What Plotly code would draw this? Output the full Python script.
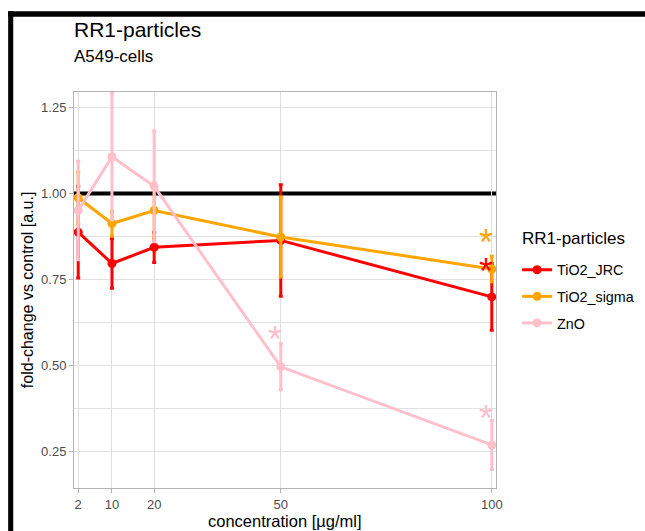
import plotly.graph_objects as go

# concentrations [µg/ml]
conc = [2, 10, 20, 50, 100]

series_names = ["TiO2_JRC", "TiO2_sigma", "ZnO"]
series_colors = ["#ff0000", "#ffa500", "#ffc0cb"]

# fold-change means and error half-widths
jrc_mean = [0.888, 0.797, 0.844, 0.864, 0.700]
jrc_err = [0.133, 0.072, 0.044, 0.162, 0.097]
sigma_mean = [0.988, 0.913, 0.951, 0.874, 0.781]
sigma_err = [0.075, 0.036, 0.080, 0.116, 0.037]
zno_mean = [0.951, 1.107, 1.021, 0.497, 0.270]
zno_err = [0.143, 0.184, 0.161, 0.067, 0.071]

# significance stars
sig_series = ["TiO2_JRC", "TiO2_sigma", "ZnO", "ZnO"]
sig_conc = [100, 100, 50, 100]
sig_level = [0.792, 0.875, 0.594, 0.363]

x_ticks = [2, 10, 20, 50, 100]
y_ticks = [0.25, 0.50, 0.75, 1.00, 1.25]
# horizontal grid lines (the one at 1.00 is covered by the control line)
y_grid = [0.25, 0.375, 0.50, 0.625, 0.75, 0.875, 1.125, 1.25]

means = [jrc_mean, sigma_mean, zno_mean]
errs = [jrc_err, sigma_err, zno_err]

FONT = "Liberation Sans, Arial, sans-serif"

fig = go.Figure()

for name, col, m, e in zip(series_names, series_colors, means, errs):
    fig.add_trace(go.Scatter(
        x=conc, y=m, name=name, mode="lines+markers",
        line=dict(color=col, width=3),
        marker=dict(color=col, size=9),
        error_y=dict(type="data", array=e, visible=True,
                     color=col, thickness=3, width=2),
        legendgroup=name,
    ))

color_of = dict(zip(series_names, series_colors))
annotations = []
for s, cx, lv in zip(sig_series, sig_conc, sig_level):
    annotations.append(dict(
        x=cx, y=lv, xref="x", yref="y", text="*", showarrow=False,
        font=dict(family=FONT, size=36, color=color_of[s]),
        xanchor="center", yanchor="middle", xshift=-6, yshift=-6,
    ))

# titles
annotations += [
    dict(x=0, y=1.1566, xref="paper", yref="paper", text="RR1-particles",
         showarrow=False, xanchor="left", yanchor="middle", xshift=-2,
         font=dict(family=FONT, size=21, color="black")),
    dict(x=0, y=1.0884, xref="paper", yref="paper", text="A549-cells",
         showarrow=False, xanchor="left", yanchor="middle", xshift=-2,
         font=dict(family=FONT, size=17, color="black")),
    dict(x=-0.111, y=0.5, xref="paper", yref="paper",
         text="fold-change vs control [a.u.]", textangle=-90,
         showarrow=False, xanchor="center", yanchor="middle",
         font=dict(family=FONT, size=16, color="black")),
    dict(x=0.5, y=-0.083, xref="paper", yref="paper",
         text="concentration [µg/ml]",
         showarrow=False, xanchor="center", yanchor="middle",
         font=dict(family=FONT, size=16.5, color="black")),
    # legend heading
    dict(x=1.057, y=0.631, xref="paper", yref="paper", text="RR1-particles",
         showarrow=False, xanchor="left", yanchor="middle",
         font=dict(family=FONT, size=17, color="black")),
]

shapes = [
    # control reference line
    dict(type="line", xref="paper", yref="y", x0=0, x1=1, y0=1.0, y1=1.0,
         line=dict(color="black", width=4), layer="below"),
    # outer frame bars
    dict(type="rect", xref="paper", yref="paper",
         x0=-0.156, x1=1.40, y0=1.19, y1=1.204,
         fillcolor="black", line=dict(width=0)),
    dict(type="rect", xref="paper", yref="paper",
         x0=-0.156, x1=-0.144, y0=-0.11, y1=1.204,
         fillcolor="black", line=dict(width=0)),
]

fig.update_layout(
    width=645, height=531,
    margin=dict(l=74, r=149, t=92, b=43, autoexpand=False),
    paper_bgcolor="white", plot_bgcolor="white",
    font=dict(family=FONT, size=13, color="black"),
    showlegend=True,
    legend=dict(
        x=1.05, y=0.591, xanchor="left", yanchor="top",
        font=dict(family=FONT, size=14.3, color="black"),
        tracegroupgap=5, itemwidth=30,
        bgcolor="rgba(0,0,0,0)",
    ),
    annotations=annotations,
    shapes=shapes,
    xaxis=dict(
        range=[1.0, 101], tickvals=x_ticks, ticktext=[str(v) for v in x_ticks],
        showgrid=True, gridcolor="#dedede", gridwidth=1,
        showline=True, linecolor="#b3b3b3", linewidth=1, mirror=True,
        ticks="outside", ticklen=4, tickcolor="#b3b3b3",
        tickfont=dict(family=FONT, size=13, color="#4d4d4d"),
        zeroline=False,
    ),
    yaxis=dict(
        range=[0.145, 1.295], tickvals=y_ticks,
        ticktext=[f"{v:.2f}" for v in y_ticks],
        showgrid=False,
        minor=dict(tickvals=y_grid, showgrid=True, gridcolor="#e2e2e2",
                   gridwidth=1, ticks=""),
        showline=True, linecolor="#b3b3b3", linewidth=1, mirror=True,
        ticks="outside", ticklen=4, tickcolor="#b3b3b3",
        tickfont=dict(family=FONT, size=13, color="#4d4d4d"),
        zeroline=False,
    ),
)

fig.write_html("out.html")
